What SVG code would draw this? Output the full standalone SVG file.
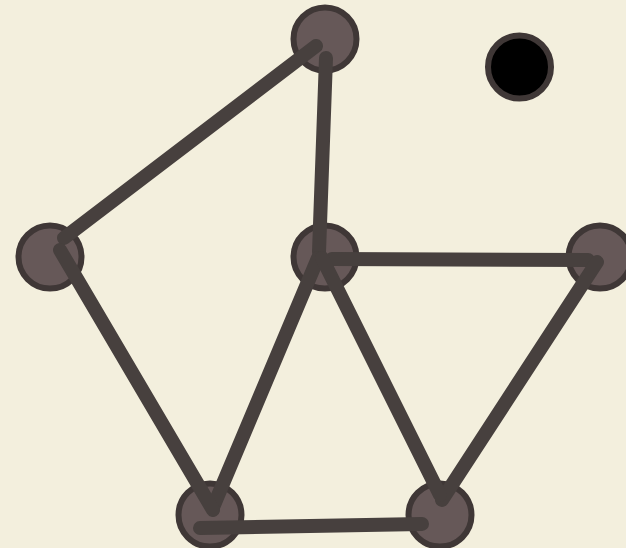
<svg xmlns="http://www.w3.org/2000/svg" width="626" height="548" viewBox="0 0 626 548">
<style>
.node{fill:#665858;stroke:#3f3736;stroke-width:6}
.blk{fill:#000;stroke:#3f3736;stroke-width:6}
.edge{stroke:#47403e;stroke-width:14;stroke-linecap:round;fill:none}
</style>
<rect width="626" height="548" fill="#f3efdd"/>
<g id="nodes">
<g id="n1"><circle class="node" cx="325" cy="39" r="31.5"/></g>
<g id="n2"><circle class="blk" cx="519.5" cy="67" r="31.5"/></g>
<g id="n3"><circle class="node" cx="50" cy="257" r="31.5"/></g>
<g id="n4"><circle class="node" cx="325" cy="257" r="31.5"/></g>
<g id="n5"><circle class="node" cx="600" cy="257" r="31.5"/></g>
<g id="n6"><circle class="node" cx="210" cy="515" r="31.5"/></g>
<g id="n7"><circle class="node" cx="440" cy="515" r="31.5"/></g>
</g>
<g id="connectors">
<line class="edge" x1="316" y1="46" x2="64" y2="238"/>
<line class="edge" x1="326" y1="58" x2="319" y2="252"/>
<line class="edge" x1="332" y1="259" x2="588" y2="260"/>
<line class="edge" x1="597" y1="262" x2="442" y2="500"/>
<line class="edge" x1="318" y1="258" x2="214" y2="505"/>
<line class="edge" x1="322" y1="258" x2="440" y2="495"/>
<line class="edge" x1="60" y1="250" x2="213" y2="510"/>
<line class="edge" x1="200" y1="528" x2="422" y2="524"/>
</g>
</svg>
